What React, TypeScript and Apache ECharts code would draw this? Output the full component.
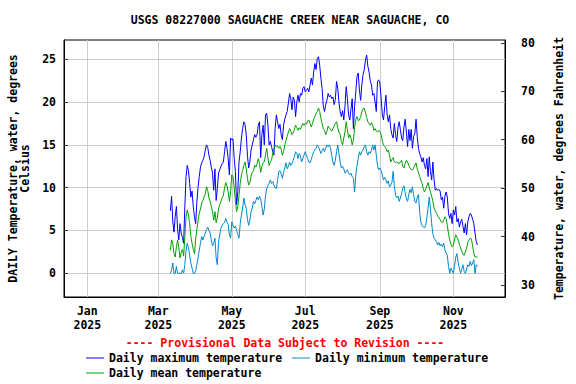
import React, { useEffect, useRef } from "react";
import * as echarts from "echarts";

const startDate = "2025-03-11";

const maxTemp = [
  7.3, 9.0, 6.0, 4.8, 6.6, 7.8, 5.1, 3.9, 5.8, 4.7, 4.2, 3.5, 7.8, 11.3, 12.6, 12.0, 10.5, 8.9, 9.6, 7.8,
  6.6, 5.8, 8.3, 10.1, 11.3, 12.4, 12.9, 13.2, 13.6, 14.4, 15.0, 14.7, 13.8, 13.2, 12.4, 11.7, 9.7, 12.2, 8.5, 9.9,
  11.7, 12.1, 12.5, 12.8, 13.0, 14.2, 15.4, 14.6, 13.4, 11.5, 15.8, 15.6, 15.7, 13.4, 11.9, 8.0, 9.5, 13.0, 14.2, 15.8,
  16.9, 17.7, 17.4, 16.2, 13.8, 12.3, 13.0, 14.4, 15.0, 15.6, 16.2, 15.9, 16.2, 17.3, 17.7, 13.5, 16.2, 17.3, 15.0, 18.5,
  18.7, 17.3, 15.0, 15.4, 14.8, 14.2, 13.8, 16.9, 18.5, 17.7, 16.9, 17.4, 16.2, 15.6, 17.3, 18.0, 18.5, 18.9, 19.9, 21.0,
  20.4, 19.1, 20.6, 20.2, 18.3, 20.0, 20.8, 20.0, 21.0, 20.8, 21.6, 21.8, 21.2, 21.4, 21.6, 21.2, 22.0, 22.8, 22.0, 23.5,
  24.5, 23.8, 25.1, 25.3, 24.3, 22.8, 21.6, 19.5, 18.9, 19.7, 20.2, 21.0, 20.6, 20.8, 20.4, 20.6, 19.7, 20.3, 22.4, 21.6,
  20.0, 18.9, 18.3, 19.0, 17.9, 19.5, 21.8, 20.4, 18.5, 17.9, 19.2, 20.4, 16.9, 19.5, 21.2, 23.0, 23.4, 21.4, 20.2, 22.0,
  23.2, 23.8, 24.9, 25.5, 24.2, 23.5, 22.5, 22.0, 20.8, 21.0, 20.0, 18.9, 22.4, 22.6, 22.2, 20.5, 18.5, 17.9, 19.5, 20.8,
  18.5, 17.7, 18.5, 16.9, 16.2, 15.8, 17.5, 16.2, 15.4, 17.0, 17.7, 16.8, 15.8, 15.5, 17.1, 18.0, 16.5, 14.8, 16.8, 15.5,
  16.8, 14.6, 16.0, 16.3, 18.0, 16.0, 14.6, 14.0, 13.6, 13.0, 13.5, 12.6, 12.2, 13.4, 11.3, 13.6, 11.9, 10.9, 13.0, 10.9,
  9.7, 9.9, 9.7, 9.8, 9.6, 8.6, 8.9, 7.6, 9.0, 9.5, 8.9, 7.0, 6.4, 7.0, 5.8, 7.4, 6.8, 7.8, 6.0, 6.4,
  5.4, 6.0, 6.3, 5.5, 4.7, 5.8, 4.5, 6.0, 6.6, 7.0, 6.8, 6.3, 5.8, 4.7, 3.7, 3.3,
];

const meanTemp = [
  2.7, 3.9, 3.5, 2.3, 1.9, 3.1, 3.9, 3.0, 1.8, 2.4, 2.8, 2.0, 4.3, 6.6, 7.4, 6.8, 5.8, 4.3, 3.5, 2.8,
  2.3, 4.0, 5.1, 6.2, 7.0, 7.5, 8.2, 8.5, 8.9, 9.3, 10.1, 9.7, 8.8, 8.4, 7.8, 7.2, 6.2, 7.2, 5.9, 6.5,
  7.5, 8.0, 8.4, 8.8, 9.1, 10.0, 10.6, 10.2, 9.5, 8.4, 9.5, 11.5, 11.3, 10.0, 8.5, 7.2, 7.8, 9.1, 10.5, 11.5,
  12.0, 12.6, 13.0, 12.2, 11.1, 10.3, 10.6, 11.3, 11.8, 12.0, 12.6, 12.4, 12.8, 13.4, 12.8, 11.8, 12.5, 12.9, 13.0, 13.8,
  14.6, 13.5, 12.6, 13.0, 13.2, 14.0, 14.5, 15.0, 14.8, 14.9, 14.6, 14.8, 14.5, 13.8, 14.2, 15.0, 15.5, 16.0, 16.5, 16.9,
  16.6, 16.2, 16.4, 16.8, 17.3, 17.0, 16.7, 17.0, 16.8, 17.2, 17.5, 17.3, 17.5, 17.4, 17.8, 17.9, 17.5, 17.1, 17.5, 18.0,
  18.3, 18.7, 18.9, 19.3, 18.9, 18.1, 17.5, 16.9, 16.7, 16.2, 16.6, 17.2, 17.0, 16.8, 16.6, 16.9, 17.2, 17.5, 17.7, 17.0,
  16.5, 16.2, 15.4, 15.0, 15.8, 16.5, 17.7, 16.8, 15.8, 16.2, 15.8, 15.0, 15.5, 17.0, 18.0, 18.3, 17.8, 17.9, 18.3, 18.9,
  19.2, 19.3, 18.8, 18.2, 17.7, 17.5, 17.3, 17.6, 17.3, 16.7, 16.9, 16.6, 16.5, 16.7, 16.6, 16.2, 15.5, 15.0, 14.8, 14.6,
  14.2, 14.4, 13.8, 13.0, 13.3, 13.5, 13.0, 12.9, 13.0, 12.9, 12.8, 13.0, 13.2, 12.5, 12.3, 12.8, 13.2, 13.0, 12.6, 12.3,
  12.1, 12.1, 12.3, 12.6, 12.9, 12.2, 11.8, 11.3, 10.9, 10.5, 9.9, 9.5, 9.8, 10.2, 10.6, 10.0, 9.5, 9.0, 8.4, 7.6,
  7.3, 7.0, 6.7, 6.5, 6.3, 6.0, 5.9, 6.2, 6.6, 6.4, 5.6, 4.6, 3.9, 3.4, 3.1, 3.3, 3.9, 4.5, 4.2, 3.9,
  3.4, 3.0, 2.6, 2.2, 2.1, 2.5, 2.9, 3.6, 3.9, 4.1, 4.0, 3.2, 2.3, 1.9, 1.9, 1.9,
];

const minTemp = [
  0.0, 0.4, 1.2, 0.0, 0.0, 0.8, 0.0, 0.0, 0.0, 0.0, 0.4, 0.0, 1.0, 2.7, 3.5, 3.0, 2.1, 1.2, 0.6, 0.0,
  0.0, 0.3, 1.0, 1.8, 2.7, 3.5, 4.3, 3.9, 4.3, 4.7, 5.1, 5.4, 5.0, 4.7, 3.9, 3.2, 3.5, 4.1, 1.8, 1.0,
  3.7, 4.5, 5.3, 5.6, 5.8, 5.9, 6.4, 6.0, 5.7, 4.5, 4.1, 6.0, 5.6, 5.3, 5.5, 5.0, 4.5, 4.1, 5.8, 6.8,
  7.6, 8.8, 8.0, 7.6, 6.3, 5.6, 6.2, 7.2, 7.6, 8.4, 8.1, 8.5, 8.9, 8.6, 9.0, 8.7, 7.8, 6.8, 7.5, 9.1,
  9.9, 10.3, 10.5, 10.9, 10.5, 10.7, 10.3, 10.0, 9.9, 10.8, 11.9, 12.0, 11.6, 11.1, 11.8, 12.3, 12.9, 12.2, 12.5, 13.0,
  12.6, 12.8, 13.2, 13.6, 14.2, 14.0, 13.4, 14.0, 13.7, 13.0, 13.4, 13.8, 14.2, 13.8, 13.4, 13.0, 12.9, 13.3, 13.8, 14.2,
  14.4, 14.6, 15.0, 14.8, 14.4, 14.0, 14.3, 14.6, 14.2, 14.6, 15.0, 14.8, 15.0, 14.6, 13.8, 13.0, 12.6, 13.2, 14.2, 15.0,
  14.0, 13.0, 12.3, 12.5, 12.2, 11.7, 11.9, 12.1, 11.7, 11.5, 11.7, 11.3, 11.1, 9.5, 11.5, 12.6, 13.4, 14.2, 13.8, 14.2,
  14.4, 14.8, 15.0, 14.2, 13.8, 14.2, 14.0, 14.4, 15.0, 14.4, 15.0, 13.8, 12.6, 12.1, 12.3, 12.0, 11.5, 10.9, 11.2, 10.9,
  10.5, 10.8, 10.1, 10.3, 10.6, 11.9, 10.2, 9.1, 8.8, 9.0, 8.4, 8.8, 9.3, 9.9, 10.2, 9.4, 8.7, 8.4, 9.2, 9.8,
  9.4, 10.1, 9.2, 8.4, 8.2, 8.9, 9.2, 7.2, 6.0, 5.6, 5.4, 5.3, 5.6, 6.5, 7.6, 8.9, 7.5, 5.8, 4.6, 4.1,
  3.9, 3.7, 3.3, 3.6, 3.2, 3.4, 3.1, 3.5, 2.7, 2.4, 2.1, 0.8, 0.0, 0.6, 0.3, 0.0, 0.8, 1.9, 2.3, 1.2,
  0.6, 0.0, 0.5, 1.0, 0.2, 0.0, 0.5, 1.0, 0.8, 1.4, 0.9, 1.2, 1.6, 0.0, 1.0, 0.8,
];

const tickDates = ["2025-01-01", "2025-03-01", "2025-05-01", "2025-07-01", "2025-09-01", "2025-11-01"];
const tickLabels = ["Jan\n2025", "Mar\n2025", "May\n2025", "Jul\n2025", "Sep\n2025", "Nov\n2025"];
const celsiusTicks = [0, 5, 10, 15, 20, 25];
const fahrenheitTicks = [30, 40, 50, 60, 70, 80];

const seriesNames = ["Daily maximum temperature", "Daily minimum temperature", "Daily mean temperature"];
const seriesColors = ["#0000ff", "#0088cc", "#00a000"];

const FONT = "'DejaVu Sans Mono', 'Liberation Mono', monospace";
const DAY = 86400000;
const ORIGIN = "2025-01-01";

// days since Jan 1 2025
const dayOf = (iso: string) => (Date.parse(iso + "T00:00:00Z") - Date.parse(ORIGIN + "T00:00:00Z")) / DAY;

export default function App() {
  const ref = useRef<HTMLDivElement>(null);

  useEffect(() => {
    if (!ref.current) return;
    const chart = echarts.init(ref.current, null, { renderer: "svg" });
    const d0 = dayOf(startDate);
    const toPairs = (arr: number[]) => arr.map((v, i) => [d0 + i, v]);
    const tickDays = tickDates.map(dayOf);
    const textBase = { fontFamily: FONT, fontSize: 11.5, fontWeight: "bold" as const, color: "#000" };
    const legendBase = {
      orient: "horizontal",
      padding: 0,
      icon: "rect",
      itemWidth: 18,
      itemHeight: 1,
      itemGap: 10,
      textStyle: { ...textBase },
    };

    const option: any = {
      animation: false,
      backgroundColor: "#fff",
      title: {
        text: "USGS 08227000 SAGUACHE CREEK NEAR SAGUACHE, CO",
        left: 285,
        top: 9,
        textAlign: "center",
        textStyle: { ...textBase },
      },
      grid: {
        left: 64,
        right: 71,
        top: 40,
        bottom: 87,
        show: true,
        borderColor: "#000",
        borderWidth: 1,
        backgroundColor: "#fff",
        containLabel: false,
        outerBoundsMode: "none",
      },
      legend: [
        { ...legendBase, data: [seriesNames[0], seriesNames[1]], left: 86, top: 352 },
        { ...legendBase, data: [seriesNames[2]], left: 86, top: 367 },
      ],
      xAxis: {
        type: "value",
        min: -19.35,
        max: 346.9,
        axisLine: { show: true, onZero: false, lineStyle: { color: "#000", width: 1 } },
        axisTick: { show: false, customValues: tickDays },
        axisLabel: {
          customValues: tickDays,
          margin: 7,
          ...textBase,
          lineHeight: 14,
          align: "center",
          formatter: (v: number) => {
            let best = 0;
            for (let i = 0; i < tickDays.length; i++) {
              if (Math.abs(tickDays[i] - v) < Math.abs(tickDays[best] - v)) best = i;
            }
            return tickLabels[best];
          },
        },
        splitLine: { show: true, lineStyle: { color: "#cccccc", width: 1 } },
      },
      yAxis: [
        {
          type: "value",
          position: "left",
          min: -2.77,
          max: 27.25,
          name: "DAILY Temperature, water, degrees\nCelsius",
          nameLocation: "middle",
          nameRotate: 90,
          nameGap: 32,
          nameTextStyle: { ...textBase, lineHeight: 12, align: "center" },
          axisLine: { show: true, onZero: false, lineStyle: { color: "#000", width: 1 } },
          axisTick: { show: true, inside: true, length: 4, customValues: celsiusTicks, lineStyle: { color: "#333" } },
          axisLabel: { customValues: celsiusTicks, margin: 8, ...textBase },
          splitLine: { show: true, lineStyle: { color: "#cccccc", width: 1 } },
        },
        {
          type: "value",
          position: "right",
          min: 27.5,
          max: 80.6,
          name: "Temperature, water, degrees Fahrenheit",
          nameLocation: "middle",
          nameRotate: 90,
          nameGap: 48,
          nameTextStyle: { ...textBase },
          axisLine: { show: true, onZero: false, lineStyle: { color: "#000", width: 1 } },
          axisTick: { show: true, inside: true, length: 4, customValues: fahrenheitTicks, lineStyle: { color: "#333" } },
          axisLabel: { customValues: fahrenheitTicks, margin: 16, ...textBase },
          splitLine: { show: false },
        },
      ],
      graphic: [
        {
          type: "text",
          x: 285,
          y: 343,
          style: {
            text: "---- Provisional Data Subject to Revision ----",
            textAlign: "center",
            textVerticalAlign: "middle",
            fill: "#ff0000",
            font: `bold 11.5px ${FONT}`,
          },
        },
      ],
      series: [
        { name: seriesNames[0], data: toPairs(maxTemp), color: seriesColors[0] },
        { name: seriesNames[1], data: toPairs(minTemp), color: seriesColors[1] },
        { name: seriesNames[2], data: toPairs(meanTemp), color: seriesColors[2] },
      ].map((s) => ({
        type: "line",
        name: s.name,
        data: s.data,
        yAxisIndex: 0,
        symbol: "none",
        showSymbol: false,
        color: s.color,
        lineStyle: { color: s.color, width: 1 },
        itemStyle: { color: s.color },
        emphasis: { disabled: true },
      })),
    };
    chart.setOption(option);
    return () => chart.dispose();
  }, []);

  return (
    <div
      ref={ref}
      style={{ position: "fixed", left: 0, top: 0, width: 576, height: 384, background: "#fff" }}
    />
  );
}
